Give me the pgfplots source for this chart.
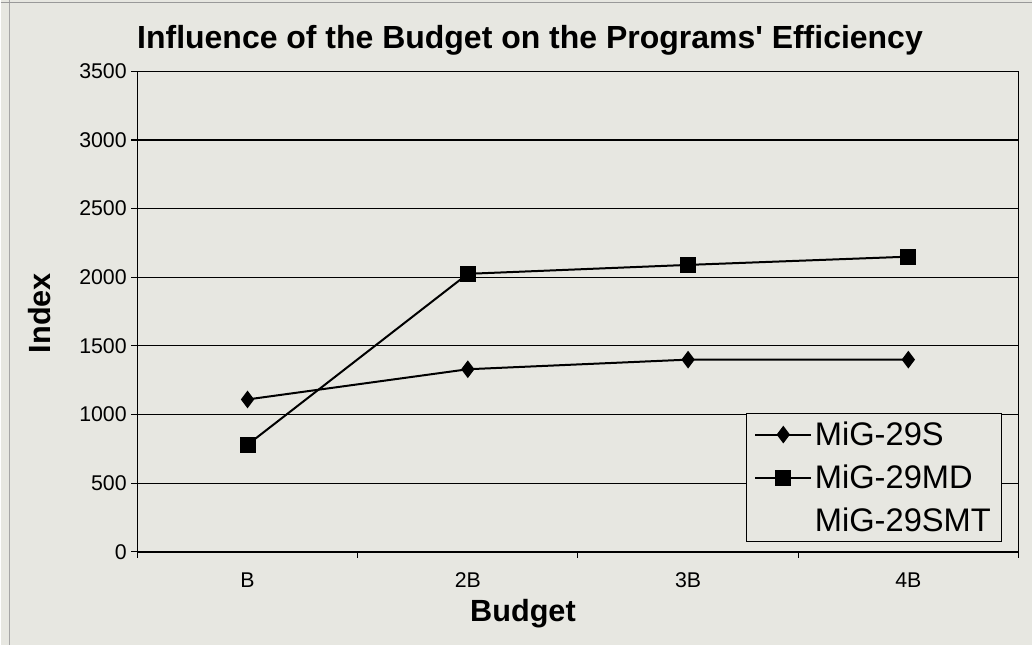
\documentclass[border=0pt]{standalone}
\usepackage{pgfplots}
\pgfplotsset{compat=1.18}
\usepackage{fontspec}
\setmainfont{Liberation Sans}
\definecolor{bg}{RGB}{231,231,225}
\begin{document}
\begin{tikzpicture}
\path[fill=bg] (0,0) rectangle (774.75pt,483.75pt);
\draw[gray!70, line width=0.6pt] (6.5pt,0) -- (6.5pt,483.75pt);
\draw[gray!80, line width=0.8pt] (0,482pt) -- (774.75pt,482pt);
\begin{axis}[
  at={(102.75pt,69.75pt)}, anchor=south west,
  scale only axis, width=661.5pt, height=360.75pt,
  xmin=0.5, xmax=4.5, ymin=0, ymax=3500,
  xtick={0.5,1.5,2.5,3.5,4.5}, xticklabels={},
  extra x ticks={1,2,3,4}, extra x tick labels={B,2B,3B,4B},
  extra x tick style={major tick length=0pt},
  ytick={0,500,...,3500},
  tick pos=left,
  tick align=outside, major tick length=4.5pt,
  ymajorgrids, grid style={black, line width=0.8pt},
  axis line style={line width=1.1pt},
  every tick/.style={black, line width=0.8pt},
  axis background/.style={fill=bg},
  /pgf/number format/assume math mode=true,
  /pgf/number format/1000 sep={},
  ticklabel style={font=\fontsize{16pt}{19pt}\selectfont},
  xticklabel style={yshift=-12pt},
  title={Influence of the Budget on the Programs\textquotesingle\ Efficiency},
  title style={at={(axis description cs:0.4456,1.031)}, anchor=base, font=\bfseries\fontsize{24pt}{28pt}\selectfont},
  xlabel={Budget},
  xlabel style={at={(axis description cs:0.4376,-0.1449)}, anchor=base, font=\bfseries\fontsize{23pt}{27pt}\selectfont},
  ylabel={Index},
  ylabel style={at={(axis description cs:-0.1111,0.4969)}, anchor=center, rotate=0, font=\bfseries\fontsize{23pt}{27pt}\selectfont},
  legend cell align=left,
  legend style={at={(axis description cs:0.6905,0.0208)}, anchor=south west,
    draw=black, line width=0.8pt, fill=bg, font=\fontsize{24.5pt}{29pt}\selectfont,
    inner xsep=6pt, inner ysep=4pt, row sep=9pt,
    /tikz/every even column/.append style={column sep=0pt}},
  legend image code/.code={\draw[mark repeat=2,mark phase=2,#1] plot coordinates {(0pt,0pt)(21pt,0pt)(42pt,0pt)};},
]
\addplot[black, line width=1.5pt, mark=diamond*, mark size=6pt, mark options={solid, fill=black, line width=0.8pt}]
  coordinates {(1,1110) (2,1330) (3,1400) (4,1400)};
\addlegendentry{MiG-29S}
\addplot[black, line width=1.5pt, mark=square*, mark size=5.6pt, mark options={solid, fill=black, line width=0.8pt}]
  coordinates {(1,780) (2,2025) (3,2090) (4,2150)};
\addlegendentry{MiG-29MD}
\addlegendimage{empty legend}
\addlegendentry{MiG-29SMT}
\end{axis}
\end{tikzpicture}
\end{document}
